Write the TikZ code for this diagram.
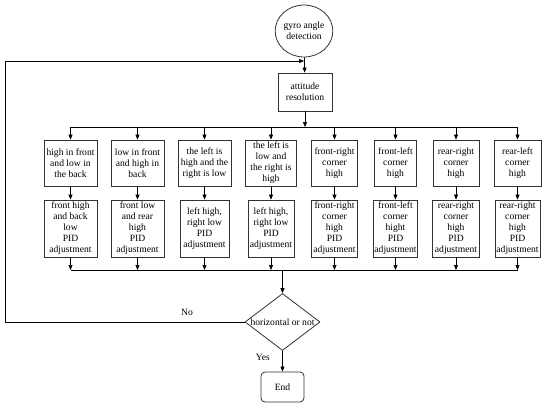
\documentclass[tikz,border=0pt]{standalone}
\usepackage{fontspec}
\setmainfont{Liberation Serif}
\usetikzlibrary{arrows.meta,shapes.geometric}

\begin{document}
\begin{tikzpicture}[x=1pt,y=-1pt,font=\fontsize{9.6}{11}\selectfont]
    \useasboundingbox (0,0) rectangle (550,407);

    \begin{scope}[every node/.style={rectangle,draw=black!80,line width=0.8pt,align=center,inner sep=1pt}]
      \node (att) at (305,92) [minimum width=54pt,minimum height=38pt] {attitude\\resolution};
      % first row
      \begin{scope}[every node/.append style={minimum height=46pt}]
        \node (r1c1) at (70.5,163) [minimum width=53pt] {high in front\\and low in\\the back};
        \node (r1c2) at (137.5,163) [minimum width=53pt] {low in front\\and high in\\back};
        \node (r1c3) at (204.5,163) [minimum width=53pt] {the left is\\high and the\\right is low};
        \node (r1c4) at (271,163) [minimum width=51pt] {the left is\\low and\\the right is\\high};
        \node (r1c5) at (334.5,163) [minimum width=46pt] {front-right\\corner\\high};
        \node (r1c6) at (395.5,163) [minimum width=42pt] {front-left\\corner\\high};
        \node (r1c7) at (456,163) [minimum width=46pt] {rear-right\\corner\\high};
        \node (r1c8) at (517.5,163) [minimum width=47pt] {rear-left\\corner\\high};
      \end{scope}
      % second row
      \begin{scope}[every node/.append style={minimum height=57pt}]
        \node (r2c1) at (70.5,228.5) [minimum width=53pt] {front high\\and back\\low\\PID\\adjustment};
        \node (r2c2) at (137.5,228.5) [minimum width=53pt] {front low\\and rear\\high\\PID\\adjustment};
        \node (r2c3) at (204.5,228.5) [minimum width=49pt] {left high,\\right low\\PID\\adjustment};
        \node (r2c4) at (271,228.5) [minimum width=46pt] {left high,\\right low\\PID\\adjustment};
        \node (r2c5) at (334.5,228.5) [minimum width=46pt] {front-right\\corner\\high\\PID\\adjustment};
        \node (r2c6) at (395.5,228.5) [minimum width=44pt] {front-left\\corner\\hight\\PID\\adjustment};
        \node (r2c7) at (456,228.5) [minimum width=47pt] {rear-right\\corner\\high\\PID\\adjustment};
        \node (r2c8) at (517.5,228.5) [minimum width=45pt] {rear-right\\corner\\high\\PID\\adjustment};
      \end{scope}
    \end{scope}

    \node (gyro) at (304,31) [ellipse,draw=black!80,line width=0.8pt,align=center,inner sep=0pt,
      minimum width=56pt,minimum height=52pt] {gyro angle\\detection};
    \node (dec) at (282.5,322) [diamond,draw=black!80,line width=0.8pt,inner sep=0pt,
      minimum width=75pt,minimum height=57pt,label=center:{horizontal or not}] {};
    \node (end) at (282.5,387) [rectangle,rounded corners=4pt,draw=black!80,line width=0.8pt,
      minimum width=43pt,minimum height=30pt] {End};

    \coordinate (bus) at (305,127);
    \coordinate (join) at (282.5,270);
    \coordinate (fb) at (5,322);
    \coordinate (merge) at (304,61);

    \begin{scope}[>={Triangle[black,length=5pt,width=4pt]},line width=0.7pt,
        every edge/.style={draw=black,line width=0.7pt}]
      \path [->] (gyro) edge (att);
      \path [->] (att) edge (bus);
      \draw (r1c1 |- bus) -- (r1c8 |- bus);
      \path [->] (r1c1 |- bus) edge (r1c1);
      \path [->] (r1c2 |- bus) edge (r1c2);
      \path [->] (r1c3 |- bus) edge (r1c3);
      \path [->] (r1c4 |- bus) edge (r1c4);
      \path [->] (r1c5 |- bus) edge (r1c5);
      \path [->] (r1c6 |- bus) edge (r1c6);
      \path [->] (r1c7 |- bus) edge (r1c7);
      \path [->] (r1c8 |- bus) edge (r1c8);

      \path [->] (r1c1) edge (r1c1 |- r2c1.north);
      \path [->] (r1c2) edge (r1c2 |- r2c2.north);
      \path [->] (r1c3) edge (r1c3 |- r2c3.north);
      \path [->] (r1c4) edge (r1c4 |- r2c4.north);
      \path [->] (r1c5) edge (r1c5 |- r2c5.north);
      \path [->] (r1c6) edge (r1c6 |- r2c6.north);
      \path [->] (r1c7) edge (r1c7 |- r2c7.north);
      \path [->] (r1c8) edge (r1c8 |- r2c8.north);

      \path [->] (r2c1) edge (r2c1 |- join);
      \path [->] (r2c2) edge (r2c2 |- join);
      \path [->] (r2c3) edge (r2c3 |- join);
      \path [->] (r2c4) edge (r2c4 |- join);
      \path [->] (r2c5) edge (r2c5 |- join);
      \path [->] (r2c6) edge (r2c6 |- join);
      \path [->] (r2c7) edge (r2c7 |- join);
      \path [->] (r2c8) edge (r2c8 |- join);
      \draw (r2c1 |- join) -- (r2c8 |- join);
      \path [->] (join) edge (dec);

      \draw [->] (dec.west) -- node [pos=0.24,above=3pt] {No} (fb) |- (merge);
      \path [->] (dec) edge node [pos=0.3,left=9pt] {Yes} (end);
    \end{scope}
  \end{tikzpicture}
\end{document}
